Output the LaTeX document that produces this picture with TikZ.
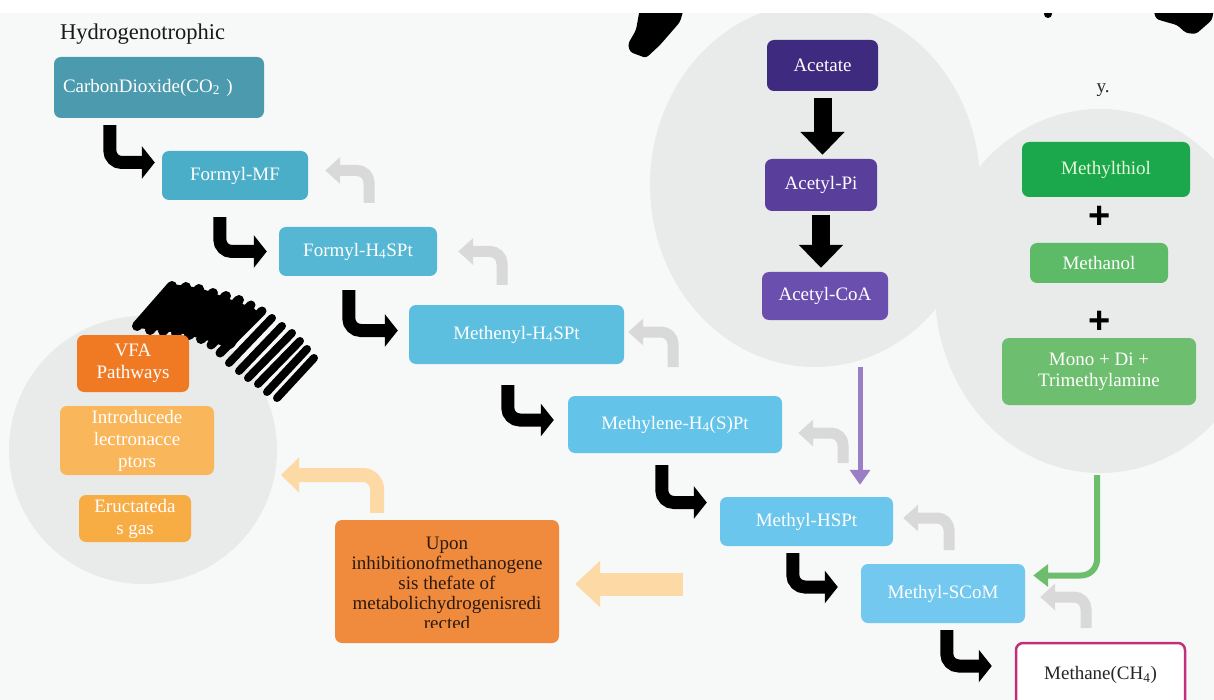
\documentclass[tikz,border=0pt]{standalone}
\usepackage{fontspec}
\setmainfont{Liberation Serif}
\newfontfamily\plusfont{Liberation Sans}
\usetikzlibrary{arrows.meta,calc,shapes.geometric}
\newcommand\nfs{\fontsize{19}{21}\selectfont}
\newcommand\ofs{\fontsize{19}{22}\selectfont}
\definecolor{bgc}{HTML}{F7F8F8}
\definecolor{circ}{HTML}{E9EAEA}
\definecolor{cA}{HTML}{4B9AAE}
\definecolor{cB}{HTML}{4BAEC8}
\definecolor{cC}{HTML}{55B7D3}
\definecolor{cD}{HTML}{5CBFE0}
\definecolor{cE}{HTML}{63C3E8}
\definecolor{cF}{HTML}{6AC6EC}
\definecolor{cG}{HTML}{72C8EE}
\definecolor{pA}{HTML}{3E2A7E}
\definecolor{pB}{HTML}{5A3E9C}
\definecolor{pC}{HTML}{6A4FAE}
\definecolor{gA}{HTML}{1BA84C}
\definecolor{gB}{HTML}{5DBA66}
\definecolor{gC}{HTML}{6DBE6E}
\definecolor{gtxt}{HTML}{E4FAD8}
\definecolor{oA}{HTML}{F07A24}
\definecolor{oB}{HTML}{F9B65A}
\definecolor{oC}{HTML}{F8AC44}
\definecolor{uponc}{HTML}{F08A3D}
\definecolor{upontxt}{HTML}{2A1A10}
\definecolor{peach}{HTML}{FDD9A5}
\definecolor{grayarr}{HTML}{D9D9D9}
\definecolor{purpl}{HTML}{9A7FC6}
\definecolor{greenl}{HTML}{6CBE6C}
\definecolor{methb}{HTML}{C2307C}
\begin{document}
\begin{tikzpicture}[x=1pt,y=-1pt,
  box/.style={rounded corners=7pt, inner sep=0pt, text=white, font=\nfs, align=center},
  blk/.style={draw=black, line width=13pt, rounded corners=12pt, -{Triangle[width=32pt,length=13pt]}},
  gry/.style={draw=grayarr, line width=11pt, rounded corners=12pt, -{Triangle[width=26pt,length=15pt]}},
  dn/.style={draw=black, line width=18pt, -{Triangle[width=43pt,length=23pt]}},
  scrib/.style={line width=8pt, line cap=round, draw=black},
  plus/.style={font=\plusfont\bfseries\fontsize{38}{38}\selectfont, inner sep=0pt},
  blob/.style={fill=circ, draw=none, inner sep=0pt}
]
\useasboundingbox (0,0) rectangle (1214,700);
\begin{scope}
\clip (0,0) rectangle (1214,700);
\fill[bgc] (0,0) rectangle (1214,700);
% background circles
\node[blob, circle, minimum size=268] (lc) at (143,450) {};
\node[blob, ellipse, minimum width=330, minimum height=364] (ac) at (815,185) {};
\node[blob, ellipse, minimum width=330, minimum height=364] (rc) at (1100,291) {};

% scribbles
\fill[black, rounded corners=4pt] (136,324) -- (150,305) -- (172,284) -- (200,288) -- (240,303) -- (258,310) -- (232,350) -- (213,342) -- (180,333) -- (138,328) -- cycle;
\foreach \a/\b/\c/\d/\w in {137/326/172/286/10, 150/330/186/287/10, 163/331/199/289/10, 176/333/213/293/10,
  189/335/226/296/10, 201/339/239/300/10, 211/345/251/305/9, 220/353/262/311/9, 229/363/272/318/8,
  239/371/282/326/8, 248/378/292/333/8, 258/384/300/341/8, 267/392/307/349/8, 277/398/314/358/8}
  \draw[scrib, line width=\w pt] (\a,\b) -- (\c,\d);
\fill[black, rounded corners=3pt] (640,8) -- (684,8) -- (680,22) -- (660,45) -- (646,58) -- (630,52) -- (628,44) -- (636,30) -- cycle;
\fill[black, rounded corners=3pt] (1153,8) -- (1214,8) -- (1212,20) -- (1196,34) -- (1186,33) -- (1177,25) -- (1166,22) -- (1156,19) -- cycle;
\fill[black] (1048,14) circle[radius=4];

% title
\node[anchor=base west, inner sep=0pt, font=\fontsize{22.5}{25}\selectfont, text=black!90] (title) at (60,40) {Hydrogenotrophic};

% hydrogenotrophic chain
\node[box, fill=cA, minimum width=210, minimum height=61, text width=192pt, align=left] (co2) at (159,87.5) {CarbonDioxide(CO\textsubscript{2} )};
\node[box, fill=cB, minimum width=146, minimum height=49] (fmf) at (235,175.5) {Formyl-MF};
\node[box, fill=cC, minimum width=158, minimum height=49] (fh4) at (358,251.5) {Formyl-H\textsubscript{4}SPt};
\node[box, fill=cD, minimum width=215, minimum height=59] (menyl) at (516.5,334.5) {Methenyl-H\textsubscript{4}SPt};
\node[box, fill=cE, minimum width=214, minimum height=57] (mlene) at (675,424.5) {Methylene-H\textsubscript{4}(S)Pt};
\node[box, fill=cF, minimum width=173, minimum height=49] (mhspt) at (806.5,521.5) {Methyl-HSPt};
\node[box, fill=cG, minimum width=164, minimum height=59] (mscom) at (943,593.5) {Methyl-SCoM};
\node[box, fill=white, draw=methb, line width=2.5pt, text=black!85, minimum width=169, minimum height=64] (ch4) at (1100.5,675) {Methane(CH\textsubscript{4})};

% forward black bent arrows
\draw[blk] ($(co2.south west)+(56,7)$) |- ([xshift=-7pt,yshift=13pt]fmf.west);
\draw[blk] ($(fmf.south west)+(58,17)$) |- ([xshift=-12pt]fh4.west);
\draw[blk] ($(fh4.south west)+(70,14)$) |- ([xshift=-11pt,yshift=4pt]menyl.west);
\draw[blk] ($(menyl.south west)+(99,21)$) |- ([xshift=-14pt,yshift=4.5pt]mlene.west);
\draw[blk] ($(mlene.south west)+(94,12)$) |- ([xshift=-13pt,yshift=19pt]mhspt.west);
\draw[blk] ($(mhspt.south west)+(73,7)$) |- ([xshift=-23pt,yshift=6.5pt]mscom.west);
\draw[blk] ($(mscom.south west)+(86,7)$) |- ([xshift=-23pt,yshift=9pt]ch4.west);

% reverse gray bent arrows
\coordinate (g1) at (369,203);
\coordinate (g2) at (502,285);
\coordinate (g3) at (673,367);
\coordinate (g4) at (843,463);
\coordinate (g5) at (949,550);
\coordinate (g6) at (1086,628);
\draw[gry] (g1) |- ([xshift=17pt,yshift=5pt]fmf.east);
\draw[gry] (g2) |- ([xshift=21pt]fh4.east);
\draw[gry] (g3) |- ([xshift=4pt,yshift=2.5pt]menyl.east);
\draw[gry] (g4) |- ([xshift=16pt,yshift=-8.5pt]mlene.east);
\draw[gry] (g5) |- ([xshift=10pt,yshift=3.5pt]mhspt.east);
\draw[gry] (g6) |- ([xshift=15pt,yshift=-3.5pt]mscom.east);

% acetoclastic
\node[box, fill=pA, minimum width=111, minimum height=51] (acet) at (822.5,65.5) {Acetate};
\node[box, fill=pB, minimum width=112, minimum height=52] (apI) at (821,185) {Acetyl-Pi};
\node[box, fill=pC, minimum width=126, minimum height=48] (acoa) at (825,296) {Acetyl-CoA};
\draw[dn] ([yshift=-7pt]acet.south) -- ([yshift=4pt]acet.south |- apI.north);
\draw[dn] ([yshift=-4pt]apI.south) -- ([yshift=4pt]apI.south |- acoa.north);
\coordinate (ps) at (860,367);
\draw[draw=purpl, line width=5pt, shorten >=12pt, -{Triangle[width=20pt,length=15pt]}] (ps) -- (ps |- mhspt.north);

% methylotrophic
\node[inner sep=0pt, font=\fontsize{19}{21}\selectfont, text=black!85] (ylab) at (1103,90) {y.};
\node[box, fill=gA, text=gtxt, minimum width=168, minimum height=55] (mthiol) at (1106,169.5) {Methylthiol};
\node[plus] (plus1) at (1100,217) {+};
\node[box, fill=gB, minimum width=138, minimum height=40] (mthol) at (1099,263) {Methanol};
\node[plus] (plus2) at (1100,322) {+};
\node[box, fill=gC, minimum width=194, minimum height=67] (mono) at (1099,371.5) {Mono + Di +\\ Trimethylamine};
\coordinate (gs) at (1097,475);
\draw[draw=greenl, line width=6pt, rounded corners=16pt, -{Triangle[width=22pt,length=15pt]}] (gs) |- ([xshift=8pt,yshift=18pt]mscom.east);

% inhibition side
\node[box, fill=oA, minimum width=112, minimum height=57, font=\ofs] (vfa) at (133,363.5) {VFA\\Pathways};
\node[box, fill=oB, minimum width=154, minimum height=69, font=\ofs] (intro) at (137,440.5) {Introducede\\lectronacce\\ptors};
\node[box, fill=oC, minimum width=112, minimum height=47, font=\ofs] (eruc) at (135,518.5) {Eructateda\\s gas};

\node[box, fill=uponc, minimum width=224, minimum height=123] (upon) at (447,581.5) {};
\begin{scope}
\clip (upon.north west) rectangle ([yshift=16pt]upon.south east);
\node[font=\fontsize{19}{20}\selectfont, text=upontxt, align=center, anchor=north, inner sep=0pt] (upontext) at (447,537) {Upon\\ inhibitionofmethanogene\\ sis thefate of\\ metabolichydrogenisredi\\ rected};
\end{scope}
\coordinate (oa) at (683,584);
\draw[draw=peach, line width=23pt, -{Triangle[width=45pt,length=25pt]}] (oa) -- ([xshift=16pt]upon.east |- oa);
\coordinate (ot) at (281,475);
\draw[draw=peach, line width=14pt, rounded corners=14pt, -{Triangle[width=34pt,length=18pt]}] ([xshift=-70pt,yshift=7pt]upon.north) |- (ot);

% white top strip
\fill[white] (0,0) rectangle (1214,13);
\end{scope}
\end{tikzpicture}
\end{document}
